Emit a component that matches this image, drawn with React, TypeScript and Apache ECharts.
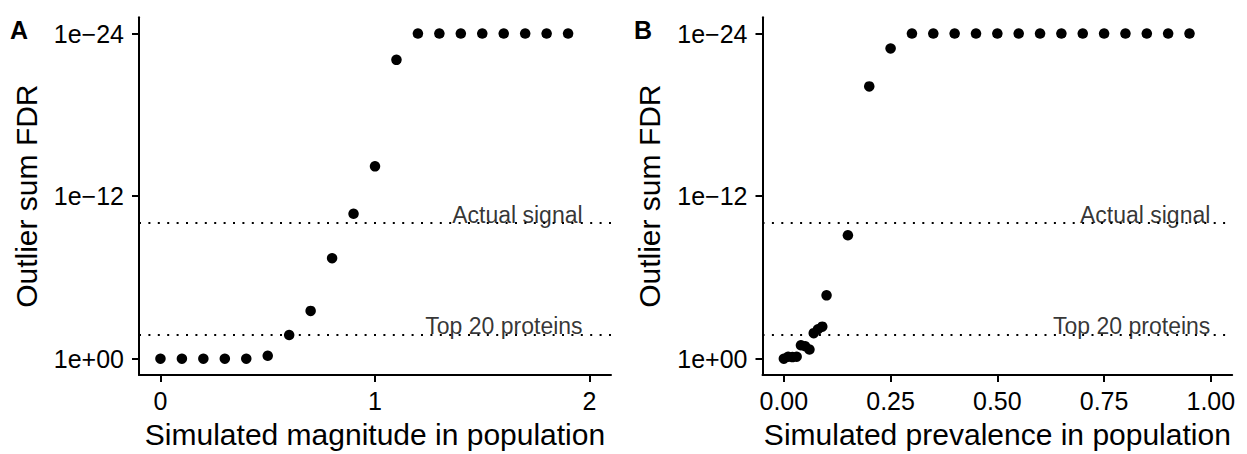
import React, { useEffect, useRef } from "react";
import * as echarts from "echarts";

// ---- Data (FDR shown as exponent: value k means FDR = 1e-k) ----
const magnitude = [0, 0.1, 0.2, 0.3, 0.4, 0.5, 0.6, 0.7, 0.8, 0.9, 1.0, 1.1, 1.2, 1.3, 1.4, 1.5, 1.6, 1.7, 1.8, 1.9];
const magnitudeFdrExponent = [0, 0, 0, 0, 0, 0.22, 1.75, 3.53, 7.42, 10.7, 14.2, 22.06, 24, 24, 24, 24, 24, 24, 24, 24];

const prevalence = [
  0, 0.01, 0.02, 0.03, 0.04, 0.05, 0.06, 0.07, 0.08, 0.09, 0.1, 0.15, 0.2, 0.25,
  0.3, 0.35, 0.4, 0.45, 0.5, 0.55, 0.6, 0.65, 0.7, 0.75, 0.8, 0.85, 0.9, 0.95,
];
const prevalenceFdrExponent = [
  0, 0.15, 0.12, 0.15, 0.99, 0.92, 0.68, 1.89, 2.18, 2.37, 4.68, 9.11, 20.1, 22.9,
  24, 24, 24, 24, 24, 24, 24, 24, 24, 24, 24, 24, 24, 24,
];

const yTickExponents = [0, 12, 24];
const magnitudeTicks = [0, 1, 2];
const prevalenceTicks = [0, 0.25, 0.5, 0.75, 1];

const thresholdNames = ["Actual signal", "Top 20 proteins"];
const thresholdExponents = [10, 1.8];
const annotationX = [1.97, 1.0];

const panelLabels = ["A", "B"];
const xTitles = ["Simulated magnitude in population", "Simulated prevalence in population"];
const yTitle = "Outlier sum FDR";

const FONT = "'Liberation Sans', Arial, Helvetica, sans-serif";

function fmtExp(v: number): string {
  if (v === 0) return "1e+00";
  const s = String(Math.abs(v)).padStart(2, "0");
  return v > 0 ? "1e\u2212" + s : "1e+" + s;
}

export default function App() {
  const ref = useRef<HTMLDivElement>(null);

  useEffect(() => {
    if (!ref.current) return;
    const chart = echarts.init(ref.current, null, { renderer: "svg" });

    const panels = [
      { x: magnitude, y: magnitudeFdrExponent, ticks: magnitudeTicks, min: -0.1, max: 2.1, fmt: (v: number) => String(v) },
      { x: prevalence, y: prevalenceFdrExponent, ticks: prevalenceTicks, min: -0.05, max: 1.05, fmt: (v: number) => v.toFixed(2) },
    ];

    const grids = [
      { left: 139, top: 17.3, width: 472, height: 363.5 },
      { left: 762.5, top: 17.3, width: 469.7, height: 363.5 },
    ];

    const axisLine = { show: true, onZero: false, lineStyle: { color: "#000", width: 2 } };

    const xAxis = panels.map((p, i) => ({
      type: "value",
      gridIndex: i,
      min: p.min,
      max: p.max,
      axisLine,
      axisTick: { show: true, length: 7, lineStyle: { color: "#000", width: 2 }, customValues: p.ticks },
      axisLabel: { customValues: p.ticks, formatter: p.fmt, fontSize: 25, color: "#000", margin: 13, fontFamily: FONT },
      splitLine: { show: false },
      name: xTitles[i],
      nameLocation: "middle",
      nameGap: 44,
      nameTextStyle: { fontSize: 30, color: "#000", fontFamily: FONT },
    }));

    const yAxis = panels.map((_, i) => ({
      type: "value",
      gridIndex: i,
      min: -1.2,
      max: 25.2,
      axisLine,
      axisTick: { show: true, length: 7, lineStyle: { color: "#000", width: 2 }, customValues: yTickExponents },
      axisLabel: { customValues: yTickExponents, formatter: fmtExp, fontSize: 25, color: "#000", margin: 15, fontFamily: FONT },
      splitLine: { show: false },
      name: yTitle,
      nameLocation: "middle",
      nameGap: 98,
      nameTextStyle: { fontSize: 30, color: "#000", fontFamily: FONT },
    }));

    const series: any[] = [];
    panels.forEach((p, i) => {
      series.push({
        type: "scatter",
        xAxisIndex: i,
        yAxisIndex: i,
        symbolSize: 10.5,
        itemStyle: { color: "#000", opacity: 1 },
        data: p.x.map((xv, k) => [xv, p.y[k]]),
        z: 3,
        markLine: {
          silent: true,
          symbol: "none",
          label: { show: false },
          lineStyle: { color: "#000", width: 2, type: [2, 7.4] },
          data: thresholdExponents.map((v) => ({ yAxis: v })),
        },
      });
      series.push({
        type: "scatter",
        xAxisIndex: i,
        yAxisIndex: i,
        symbolSize: 1,
        silent: true,
        itemStyle: { color: "transparent" },
        z: 4,
        label: {
          show: true,
          position: "left",
          distance: 0,
          verticalAlign: "bottom",
          offset: [0, 3],
          fontSize: 23,
          color: "#000",
          textBorderWidth: 0,
          fontFamily: FONT,
          formatter: (prm: any) => prm.data[2],
        },
        data: thresholdExponents.map((v, k) => [annotationX[i], v, thresholdNames[k]]),
      });
    });

    chart.setOption({
      animation: false,
      backgroundColor: "#fff",
      grid: grids,
      xAxis,
      yAxis,
      series,
      graphic: panelLabels.map((t, i) => ({
        type: "text",
        left: 10 + i * 624,
        top: 17,
        style: { text: t, fontSize: 25, fontWeight: "bold", fontFamily: FONT, fill: "#000" },
      })),
    });

    return () => chart.dispose();
  }, []);

  return (
    <div
      ref={ref}
      style={{ position: "fixed", left: 0, top: 0, width: 1247, height: 454, background: "#fff" }}
    />
  );
}
